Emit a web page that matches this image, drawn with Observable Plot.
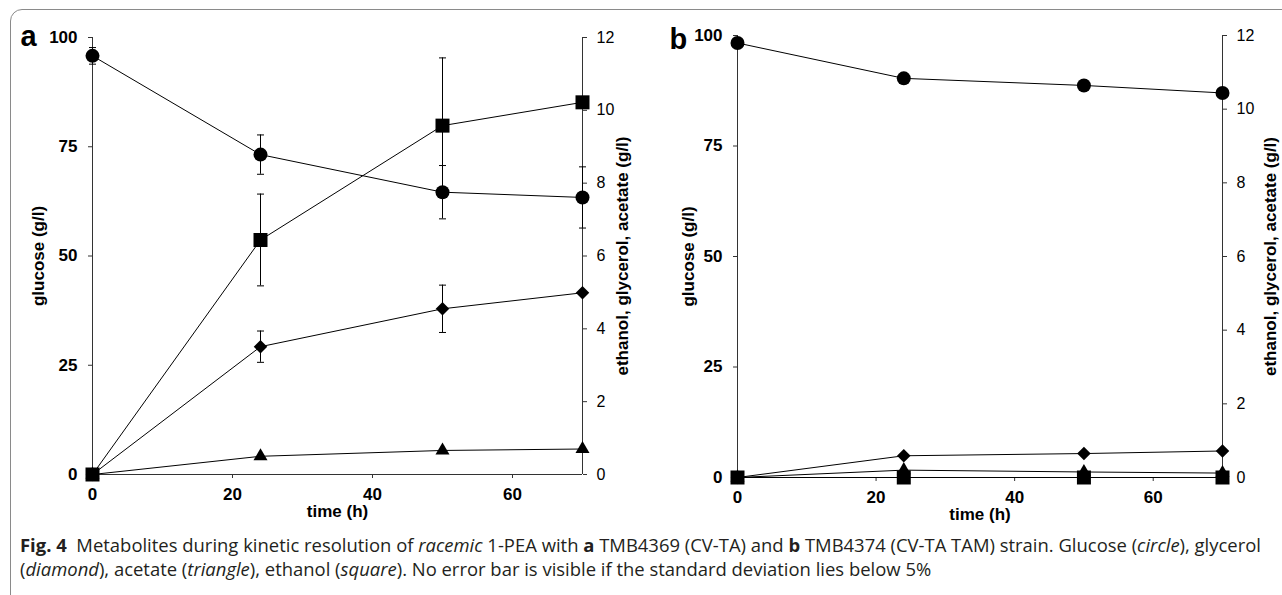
<!DOCTYPE html>
<html>
<head>
<meta charset="utf-8">
<script src="https://cdn.jsdelivr.net/npm/d3@7"></script>
<script src="https://cdn.jsdelivr.net/npm/@observablehq/plot@0.6"></script>
<style>
  html, body { margin: 0; padding: 0; background: #fff; }
  body { width: 1282px; height: 595px; position: relative; overflow: hidden; }
  #frame { position: absolute; left: 10px; top: 9px; width: 1320px; height: 640px;
           border: 1.5px solid #8a8a8a; border-radius: 12px; box-sizing: border-box; }
  .panel { position: absolute; top: 0; }
  #pa { left: 0; }
  #pb { left: 641px; }
  #caption { position: absolute; left: 20px; top: 533px; width: 1260px;
             font-family: "Open Sans", "Noto Sans", sans-serif; font-size: 18.45px;
             line-height: 24px; color: #231f20; white-space: nowrap; letter-spacing: 0; }
</style>
</head>
<body>
<div id="frame"></div>
<div id="pa" class="panel"></div>
<div id="pb" class="panel"></div>
<div id="caption"><b>Fig. 4</b>&nbsp; Metabolites during kinetic resolution of <i>racemic</i> 1-PEA with <b>a</b> TMB4369 (CV-TA) and <b>b</b> TMB4374 (CV-TA TAM) strain. Glucose (<i>circle</i>), glycerol<br>(<i>diamond</i>), acetate (<i>triangle</i>), ethanol (<i>square</i>). No error bar is visible if the standard deviation lies below 5%</div>
<script>
// ---------- data ----------
const time = [0, 24, 50, 70];

// panel a : TMB4369 (CV-TA)
const glucoseA    = [95.8, 73.2, 64.6, 63.4];   // left axis (g/l)
const glucoseErrA = [1.9, 4.5, 6.1, 7.0];
const glycerolA    = [0, 3.51, 4.55, 4.99];     // right axis (g/l)
const glycerolErrA = [0, 0.43, 0.65, 0];
const acetateA    = [0, 0.5, 0.66, 0.7];
const ethanolA    = [0, 6.44, 9.58, 10.22];
const ethanolErrA = [0, 1.26, 1.86, 0];

// panel b : TMB4374 (CV-TA TAM)
const glucoseB  = [98.3, 90.3, 88.7, 87.0];
const glycerolB = [0, 0.59, 0.65, 0.72];
const acetateB  = [0, 0.2, 0.15, 0.12];
const ethanolB  = [0, 0, 0, 0];

// ticks
const xTicks = [0, 20, 40, 60];
const leftTicks = [0, 25, 50, 75, 100];
const rightTicks = [0, 2, 4, 6, 8, 10, 12];

const leftMax = 100, rightMax = 12;
const k = leftMax / rightMax;

const capSymbol = {
  draw(ctx) { ctx.moveTo(-3.5, 0); ctx.lineTo(3.5, 0); }
};

function series(vals, errs, scale) {
  return time.map((t, i) => ({
    t, v: vals[i] * scale,
    lo: (vals[i] - (errs ? errs[i] : 0)) * scale,
    hi: (vals[i] + (errs ? errs[i] : 0)) * scale,
    e: errs ? errs[i] : 0
  }));
}

function panel(cfg) {
  const glu = series(cfg.glucose, cfg.glucoseErr, 1);
  const gly = series(cfg.glycerol, cfg.glycerolErr, k);
  const ace = series(cfg.acetate, null, k);
  const eth = series(cfg.ethanol, cfg.ethanolErr, k);
  const withErr = [...glu, ...gly, ...eth].filter(d => d.e > 0);
  const caps = withErr.flatMap(d => [{t: d.t, y: d.lo}, {t: d.t, y: d.hi}]);
  const line = (data) => Plot.line(data, {x: "t", y: "v", stroke: "#000", strokeWidth: 1});
  const font = "Liberation Sans, Arial, sans-serif";
  return Plot.plot({
    width: 641, height: 535,
    marginLeft: cfg.ml, marginRight: cfg.mr, marginTop: cfg.mt, marginBottom: cfg.mb,
    style: {fontFamily: font, background: "transparent", color: "#000", overflow: "visible"},
    x: {domain: [0, 70]},
    y: {domain: [0, leftMax]},
    marks: [
      Plot.ruleY([0], {stroke: "#333", strokeWidth: 1}),
      Plot.ruleX([0, 70], {stroke: "#333", strokeWidth: 1}),
      Plot.axisX({ticks: xTicks, tickSize: 4, tickPadding: 9, label: null, stroke: "#333",
                  fontSize: 17, fontWeight: "bold"}),
      Plot.axisY({anchor: "left", ticks: leftTicks, tickSize: 4, tickPadding: 11, label: null, stroke: "#333",
                  fontSize: 17, fontWeight: "bold"}),
      Plot.axisY({anchor: "right", ticks: rightTicks.map(v => v * k), tickFormat: v => String(Math.round(v / k)),
                  tickSize: 4, tickPadding: 10, label: null, stroke: "#333", fontSize: 16}),
      Plot.text(["glucose (g/l)"], {frameAnchor: "left", dx: cfg.ltdx, rotate: -90, textAnchor: "middle", fontWeight: "bold", fontSize: 17}),
      Plot.text(["ethanol, glycerol, acetate (g/l)"], {frameAnchor: "right", dx: cfg.rtdx, rotate: -90, textAnchor: "middle", fontWeight: "bold", fontSize: 17}),
      Plot.text(["time (h)"], {frameAnchor: "bottom", dy: 42, textAnchor: "middle", fontWeight: "bold", fontSize: 17}),
      Plot.text([cfg.letter], {frameAnchor: "top-left", dx: cfg.lbdx, dy: cfg.lbdy, textAnchor: "start", lineAnchor: "bottom", fontWeight: "bold", fontSize: 29}),
      Plot.ruleX(withErr, {x: "t", y1: "lo", y2: "hi", stroke: "#000", strokeWidth: 1}),
      Plot.dot(caps, {x: "t", y: "y", symbol: capSymbol, stroke: "#000", fill: "none", strokeWidth: 1}),
      line(glu), line(gly), line(ace), line(eth),
      Plot.dot(glu, {x: "t", y: "v", symbol: "circle", r: 7, fill: "#000", stroke: "none"}),
      Plot.dot(gly, {x: "t", y: "v", symbol: "diamond2", r: 6.1, fill: "#000", stroke: "none"}),
      Plot.dot(ace, {x: "t", y: "v", symbol: "triangle", r: 5.2, fill: "#000", stroke: "none"}),
      Plot.dot(eth, {x: "t", y: "v", symbol: "square", r: 7.9, fill: "#000", stroke: "none"})
    ]
  });
}

document.getElementById("pa").append(panel({
  letter: "a",
  glucose: glucoseA, glucoseErr: glucoseErrA,
  glycerol: glycerolA, glycerolErr: glycerolErrA,
  acetate: acetateA, ethanol: ethanolA, ethanolErr: ethanolErrA,
  ml: 92, mr: 59, mt: 37, mb: 61, ltdx: -53.5, rtdx: 40, lbdx: -72, lbdy: 8
}));
document.getElementById("pb").append(panel({
  letter: "b",
  glucose: glucoseB, glucoseErr: null,
  glycerol: glycerolB, glycerolErr: null,
  acetate: acetateB, ethanol: ethanolB, ethanolErr: null,
  ml: 96, mr: 60, mt: 35, mb: 58, ltdx: -49, rtdx: 48, lbdx: -68, lbdy: 13
}));
</script>
</body>
</html>
